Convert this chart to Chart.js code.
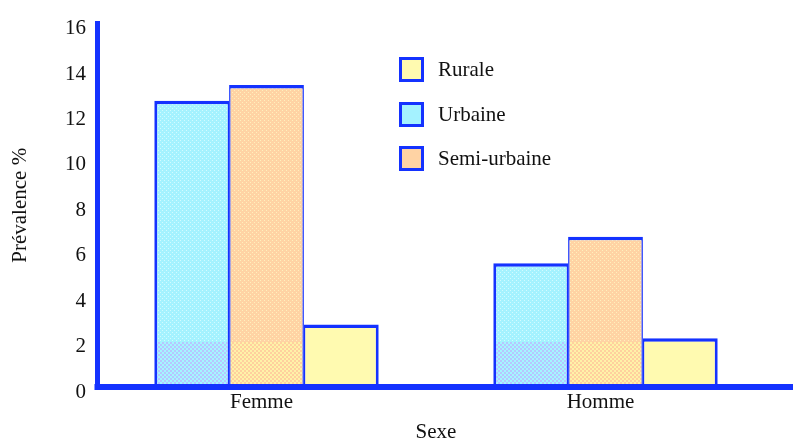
<!DOCTYPE html>
<html>
<head>
<meta charset="utf-8">
<script src="https://cdn.jsdelivr.net/npm/chart.js@4.4.0/dist/chart.umd.min.js"></script>
<style>
  html, body { margin: 0; padding: 0; background: #fff; }
  #wrap { position: relative; width: 793px; height: 445px; }
  #legend { position: absolute; left: 399px; top: 57px; font-family: 'Liberation Serif', 'Times New Roman', serif; font-size: 21px; color: #111; }
  .item { display: flex; align-items: center; height: 25px; margin-bottom: 19.5px; white-space: nowrap; }
  .box { width: 19px; height: 19px; border: 3px solid #1432ff; margin-right: 14px; }
</style>
</head>
<body>
<div id="wrap">
  <canvas id="myChart" width="793" height="445"></canvas>
  <div id="legend"></div>
</div>
<script>
const categories = ['Femme', 'Homme']
const urbaine = [12.6, 5.45]
const semiUrbaine = [13.3, 6.62]
const rurale = [2.75, 2.15]
const yTicks = [0, 2, 4, 6, 8, 10, 12, 14, 16]
const legendOrder = ['Rurale', 'Urbaine', 'Semi-urbaine']

const borderBlue = '#1432ff'
const fontName = "'Liberation Serif', 'Times New Roman', serif"

const urbaineColors = { base: '#a4f2ff', dot: '#d2fbff', lowA: '#a4f6ff', lowB: '#b6c6ff' }
const semiColors = { base: '#ffd3a4', dot: '#fff0bc', lowA: '#ffd09e', lowB: '#fff2a8' }
const ruraleColor = '#fffab0'

// bars get a fine dotted fill above 2 and a coarser checker below it
function makeFill(col) {
	var cache = {}
	return function(context) {
		var chart = context.chart
		var y = chart.scales && chart.scales.y
		if (!y || !chart.chartArea) return col.base
		var split = Math.round(y.getPixelForValue(2))
		if (!isFinite(split)) return col.base
		if (cache[split]) return cache[split]
		var c = document.createElement('canvas')
		c.width = 4
		c.height = chart.height
		var g = c.getContext('2d')
		g.fillStyle = col.base
		g.fillRect(0, 0, 4, split)
		g.fillStyle = col.dot
		for (var r = 0; r < split; r += 4) {
			g.fillRect(0, r, 1, 1)
			g.fillRect(2, r + 2, 1, 1)
		}
		for (var r2 = split; r2 < c.height; r2 += 2) {
			for (var k = 0; k < 4; k += 2) {
				g.fillStyle = ((r2 - split) / 2 + k / 2) % 2 ? col.lowB : col.lowA
				g.fillRect(k, r2, 2, 2)
			}
		}
		cache[split] = g.createPattern(c, 'repeat')
		return cache[split]
	}
}

// x axis line drawn over the bars, running to the right edge
var axisLinePlugin = {
	id: 'axisLine',
	afterDatasetsDraw: function(chart) {
		var ctx = chart.ctx
		var y0 = chart.scales.y.getPixelForValue(0)
		ctx.save()
		ctx.fillStyle = borderBlue
		ctx.fillRect(chart.chartArea.left - 2.5, y0 - 3, chart.width - chart.chartArea.left + 2.5, 6)
		ctx.restore()
	}
}

var data = {
	labels: categories,
	datasets: [
	{
		label: 'Urbaine',
		data: urbaine,
		backgroundColor: makeFill(urbaineColors),
		borderColor: borderBlue,
		borderWidth: { top: 3.5, left: 3, right: 1.5, bottom: 0 },
	},
	{
		label: 'Semi-urbaine',
		data: semiUrbaine,
		backgroundColor: makeFill(semiColors),
		borderColor: borderBlue,
		borderWidth: { top: 3.5, left: 1.5, right: 1.5, bottom: 0 },
	},
	{
		label: 'Rurale',
		data: rurale,
		backgroundColor: ruraleColor,
		borderColor: borderBlue,
		borderWidth: { top: 3.5, left: 1.5, right: 3, bottom: 0 },
	}
]
}

var chart = new Chart(document.getElementById('myChart'), {
	type: 'bar',
	data: data,
	plugins: [axisLinePlugin],
	options: {
		responsive: false,
		animation: false,
		layout: { padding: { top: 21, right: 18, left: 0, bottom: 0 } },
		datasets: { bar: { categoryPercentage: 0.662, barPercentage: 1 } },
		plugins: { legend: { display: false }, tooltip: { enabled: false } },
		scales: {
			x: {
				grid: { display: false, drawTicks: false, tickLength: 0 },
				border: { display: false },
				ticks: { color: '#111', font: { family: fontName, size: 21 }, padding: 3, labelOffset: -5 },
				title: { display: true, text: 'Sexe', color: '#111', font: { family: fontName, size: 21 }, padding: { top: 0, bottom: 0 } },
				afterFit: function(scale) { scale.height = 58 },
			},
			y: {
				min: 0,
				max: 16,
				afterBuildTicks: function(scale) { scale.ticks = yTicks.map(function(v) { return { value: v } }) },
				grid: { display: false, drawTicks: false, tickLength: 0 },
				border: { display: true, color: borderBlue, width: 5 },
				ticks: { color: '#111', font: { family: fontName, size: 21 }, padding: 11, labelOffset: 5 },
				title: { display: true, text: 'Prévalence %', color: '#111', font: { family: fontName, size: 21 }, padding: { top: 8, bottom: 0 } },
				afterFit: function(scale) { scale.width = 97 },
			}
		}
	}
})

var legend = document.getElementById('legend')
legendOrder.forEach(function(name) {
	var ds = data.datasets.find(function(d) { return d.label === name })
	var fill = ds === data.datasets[0] ? urbaineColors.base : ds === data.datasets[1] ? semiColors.base : ruraleColor
	var item = document.createElement('div')
	item.className = 'item'
	item.innerHTML = '<span class="box" style="background:' + fill + '"></span>' + name
	legend.appendChild(item)
})
</script>
</body>
</html>
